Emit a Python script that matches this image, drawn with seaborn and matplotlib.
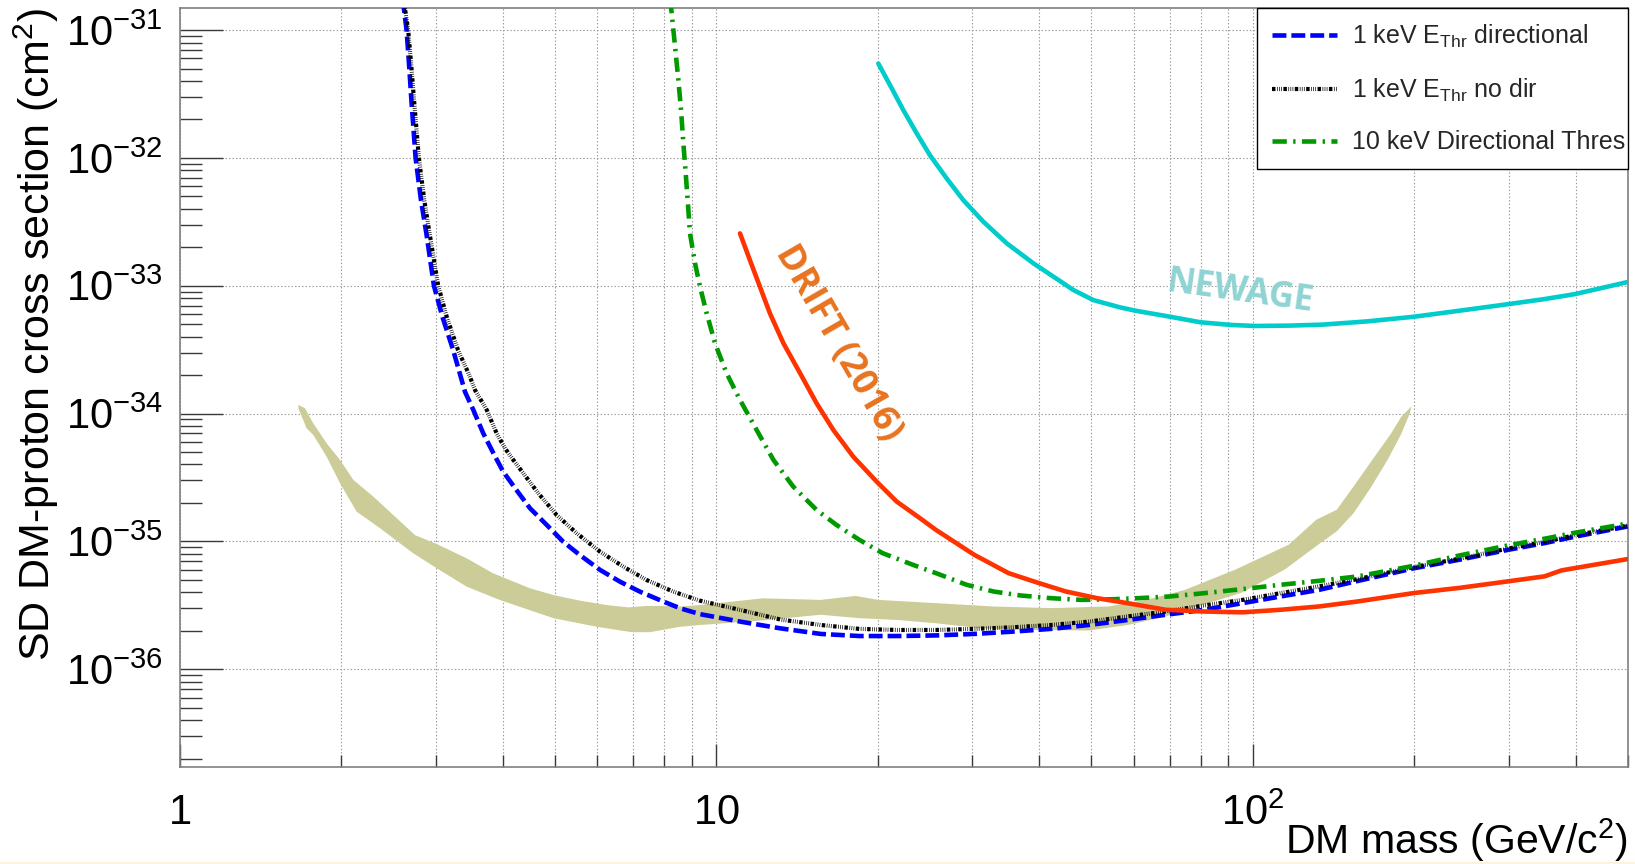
import matplotlib
matplotlib.use("Agg")
import matplotlib.pyplot as plt
from matplotlib.patches import Rectangle
from matplotlib.ticker import FixedLocator, FixedFormatter, LogLocator, NullFormatter
import numpy as np
import pandas as pd
import seaborn as sns

# ---------------- data: DM mass (GeV/c^2) vs SD cross-section limit (cm^2) ----------------
mass_1kev_dir = [2.582, 2.618, 2.649, 2.679, 2.704, 2.754, 2.818, 2.884, 2.979, 3.090, 3.236,
                 3.404, 3.527, 3.681, 3.846, 4.009, 4.246, 4.498, 4.831, 5.188, 5.572, 6.081,
                 6.622, 7.211, 7.852, 8.570, 9.333, 11.22, 13.18, 15.67, 18.49, 21.78, 25.70,
                 30.27, 35.65, 42.07, 49.55, 58.48, 68.87, 81.28, 95.72, 112.7, 133.0, 156.7,
                 200.0, 242.7, 299.9, 349.9, 399.0, 500.0]
xsec_1kev_dir = [3.16e-31, 1.48e-31, 1.00e-31, 5.16e-32, 2.83e-32, 9.91e-33, 4.67e-33, 2.56e-33,
                 1.00e-33, 5.70e-34, 3.13e-34, 1.48e-34, 1.07e-34, 7.01e-35, 4.89e-35, 3.52e-35,
                 2.52e-35, 1.82e-35, 1.35e-35, 9.95e-36, 7.83e-36, 5.98e-36, 4.84e-36, 4.05e-36,
                 3.48e-36, 3.00e-36, 2.70e-36, 2.34e-36, 2.09e-36, 1.89e-36, 1.82e-36, 1.82e-36,
                 1.84e-36, 1.89e-36, 1.97e-36, 2.07e-36, 2.22e-36, 2.43e-36, 2.67e-36, 2.92e-36,
                 3.29e-36, 3.71e-36, 4.18e-36, 4.90e-36, 6.17e-36, 7.19e-36, 8.61e-36, 9.70e-36,
                 1.09e-35, 1.31e-35]

mass_1kev_nodir = [2.594, 2.630, 2.667, 2.704, 2.735, 2.793, 2.858, 2.924, 3.034, 3.148, 3.304,
                   3.467, 3.553, 3.736, 3.899, 4.042, 4.188, 4.373, 4.662, 5.044, 5.496, 6.076,
                   6.714, 7.424, 8.323, 9.333, 11.22, 13.18, 15.67, 18.49, 21.78, 25.70, 30.27,
                   35.65, 42.07, 49.55, 58.48, 68.87, 81.28, 95.72, 112.7, 133.0, 156.7, 200.0,
                   242.7, 299.9, 349.9, 399.0, 500.0]
xsec_1kev_nodir = [3.16e-31, 1.48e-31, 1.00e-31, 5.16e-32, 2.83e-32, 9.91e-33, 4.67e-33, 2.56e-33,
                   1.00e-33, 5.70e-34, 3.13e-34, 2.00e-34, 1.53e-34, 1.07e-34, 7.01e-35, 5.35e-35,
                   4.34e-35, 3.41e-35, 2.38e-35, 1.61e-35, 1.16e-35, 8.32e-36, 6.35e-36, 4.99e-36,
                   4.05e-36, 3.44e-36, 2.88e-36, 2.45e-36, 2.22e-36, 2.07e-36, 2.03e-36, 2.03e-36,
                   2.07e-36, 2.13e-36, 2.22e-36, 2.36e-36, 2.59e-36, 2.83e-36, 3.16e-36, 3.49e-36,
                   3.94e-36, 4.45e-36, 5.07e-36, 6.31e-36, 7.33e-36, 8.81e-36, 9.93e-36, 1.12e-35,
                   1.33e-35]

mass_10kev_dir = [8.185, 8.241, 8.325, 8.421, 8.505, 8.603, 8.689, 8.777, 8.851, 8.940, 9.135,
                  9.333, 9.605, 9.954, 10.46, 11.08, 11.90, 12.79, 13.93, 15.40, 16.75, 18.49,
                  20.42, 23.28, 25.70, 29.31, 32.89, 36.90, 42.07, 47.97, 54.70, 61.38, 69.98,
                  81.28, 95.72, 112.7, 133.0, 156.7, 200.0, 242.7, 299.9, 349.9, 399.0, 500.0]
xsec_10kev_dir = [3.16e-31, 1.52e-31, 1.00e-31, 6.18e-32, 4.06e-32, 2.37e-32, 1.30e-32, 7.57e-33,
                  4.68e-33, 2.57e-33, 1.50e-33, 9.82e-34, 6.08e-34, 3.55e-34, 2.07e-34, 1.28e-34,
                  7.45e-35, 4.34e-35, 2.68e-35, 1.76e-35, 1.35e-35, 1.03e-35, 8.11e-36, 6.56e-36,
                  5.65e-36, 4.58e-36, 4.06e-36, 3.78e-36, 3.60e-36, 3.49e-36, 3.53e-36, 3.60e-36,
                  3.71e-36, 3.94e-36, 4.24e-36, 4.58e-36, 4.92e-36, 5.32e-36, 6.46e-36, 7.76e-36,
                  9.33e-36, 1.05e-35, 1.17e-35, 1.38e-35]

mass_drift = [11.08, 11.56, 12.07, 12.60, 13.35, 14.34, 15.40, 16.54, 18.02, 19.93, 21.71, 23.99,
              25.70, 30.27, 35.08, 39.99, 44.87, 51.29, 58.48, 68.87, 81.28, 95.72, 112.7, 133.0,
              156.7, 200.0, 242.7, 299.9, 349.9, 376.7, 399.0, 500.0]
xsec_drift = [2.57e-33, 1.59e-33, 9.82e-34, 6.08e-34, 3.55e-34, 2.07e-34, 1.20e-34, 7.45e-35,
              4.60e-35, 2.93e-35, 2.05e-35, 1.52e-35, 1.23e-35, 7.87e-36, 5.65e-36, 4.72e-36,
              4.06e-36, 3.60e-36, 3.29e-36, 2.92e-36, 2.83e-36, 2.79e-36, 2.92e-36, 3.10e-36,
              3.39e-36, 3.95e-36, 4.33e-36, 4.88e-36, 5.33e-36, 5.94e-36, 6.19e-36, 7.28e-36]

mass_newage = [20.06, 21.09, 22.33, 23.65, 25.04, 26.90, 28.89, 31.49, 34.81, 39.02, 42.52, 46.33,
               50.48, 56.60, 60.53, 70.15, 79.98, 91.20, 100.9, 117.0, 135.2, 163.7, 200.0, 242.7,
               299.9, 349.9, 399.0, 500.0]
xsec_newage = [5.48e-32, 3.72e-32, 2.37e-32, 1.56e-32, 1.05e-32, 6.92e-33, 4.68e-33, 3.17e-33,
               2.15e-33, 1.50e-33, 1.18e-33, 9.27e-34, 7.73e-34, 6.78e-34, 6.38e-34, 5.73e-34,
               5.18e-34, 4.94e-34, 4.85e-34, 4.88e-34, 4.97e-34, 5.27e-34, 5.73e-34, 6.38e-34,
               7.19e-34, 7.87e-34, 8.61e-34, 1.07e-33]

band_upper_mass = [1.665, 1.713, 1.775, 1.880, 1.991, 2.108, 2.297, 2.502, 2.747, 3.015, 3.428,
                   3.845, 4.499, 4.974, 5.577, 6.252, 6.863, 7.424, 7.974, 8.563, 9.333, 12.22,
                   15.67, 18.20, 20.04, 25.70, 32.89, 42.07, 53.83, 63.39, 74.82, 92.68, 116.7,
                   131.5, 143.5, 154.2, 168.7, 181.1, 189.2, 197.7]
band_upper_xsec = [1.17e-34, 1.10e-34, 8.39e-35, 5.85e-35, 4.34e-35, 3.03e-35, 2.24e-35, 1.61e-35,
                   1.12e-35, 9.55e-36, 7.38e-36, 5.62e-36, 4.30e-36, 3.81e-36, 3.44e-36, 3.18e-36,
                   3.05e-36, 3.13e-36, 3.13e-36, 3.09e-36, 3.18e-36, 3.59e-36, 3.49e-36, 3.75e-36,
                   3.49e-36, 3.29e-36, 3.10e-36, 3.01e-36, 3.10e-36, 3.49e-36, 4.18e-36, 6.00e-36,
                   9.42e-36, 1.48e-35, 1.77e-35, 2.69e-35, 4.59e-35, 6.98e-35, 9.42e-35, 1.14e-34]
band_lower_mass = [1.665, 1.725, 1.775, 1.880, 1.991, 2.138, 2.363, 2.727, 3.015, 3.428, 3.955,
                   4.974, 5.990, 6.963, 7.531, 8.089, 8.563, 9.333, 12.02, 15.67, 18.49, 21.78,
                   25.70, 31.26, 38.73, 49.55, 58.48, 68.87, 95.5, 114.8, 133.0, 143.5, 154.2,
                   166.0, 178.6, 189.2, 196.3]
band_lower_xsec = [1.10e-34, 7.67e-35, 6.81e-35, 4.60e-35, 2.85e-35, 1.71e-35, 1.27e-35, 8.07e-36,
                   6.17e-36, 4.43e-36, 3.48e-36, 2.51e-36, 2.15e-36, 1.95e-36, 1.95e-36, 2.06e-36,
                   2.15e-36, 2.22e-36, 2.40e-36, 2.67e-36, 2.51e-36, 2.43e-36, 2.29e-36, 2.09e-36,
                   2.03e-36, 2.01e-36, 2.22e-36, 2.59e-36, 3.98e-36, 6.03e-36, 9.55e-36, 1.20e-35,
                   1.66e-35, 2.63e-35, 4.37e-35, 6.92e-35, 1.00e-34]

legend_labels = [r"1 keV E$_{\mathrm{Thr}}$ directional",
                 r"1 keV E$_{\mathrm{Thr}}$ no dir",
                 "10 keV Directional Thres"]

x_tick_values = [1, 10, 100]
x_tick_labels = [r"$1$", r"$10$", r"$10^{2}$"]
y_tick_values = [1e-36, 1e-35, 1e-34, 1e-33, 1e-32, 1e-31]
y_tick_labels = [r"$10^{-36}$", r"$10^{-35}$", r"$10^{-34}$",
                 r"$10^{-33}$", r"$10^{-32}$", r"$10^{-31}$"]

# ---------------- styling ----------------
sns.set_theme(style="white")
plt.rcParams["font.family"] = ["Liberation Sans", "DejaVu Sans"]
plt.rcParams["mathtext.fontset"] = "custom"
plt.rcParams["mathtext.rm"] = "Liberation Sans"
plt.rcParams["mathtext.it"] = "Liberation Sans:italic"
plt.rcParams["mathtext.bf"] = "Liberation Sans:bold"
plt.rcParams["mathtext.default"] = "regular"
plt.rcParams["lines.scale_dashes"] = False

BAND = "#cccc99"
BLUE = "#0000ff"
BLACK = "#000000"
GREEN = "#009900"
RED = "#ff3300"
CYAN = "#00cccc"
DRIFT_TEXT = "#e8731f"
NEWAGE_TEXT = "#8fd3d3"
GRID = "#9a9a9a"

fig = plt.figure(figsize=(16.35, 8.64), dpi=100, facecolor="white")
ax = fig.add_axes([0.10985, 0.11227, 0.88563, 0.87847])
ax.set_xscale("log")
ax.set_yscale("log")
ax.set_xlim(1, 500)
ax.set_ylim(1.72e-37, 1.49e-31)

# expected-sensitivity band
ax.fill(np.concatenate([band_upper_mass, band_lower_mass[::-1]]),
        np.concatenate([band_upper_xsec, band_lower_xsec[::-1]]),
        color=BAND, lw=0, zorder=1)


def draw(mass, xsec, color, lw, dashes=None, z=3):
    df = pd.DataFrame({"mass": mass, "xsec": xsec})
    sns.lineplot(data=df, x="mass", y="xsec", ax=ax, color=color, linewidth=lw,
                 estimator=None, sort=False, legend=False, zorder=z)
    line = ax.lines[-1]
    if dashes is not None:
        line.set_dashes(dashes)
    line.set_dash_capstyle("butt")
    return line


LW = 3.3
l_dir = draw(mass_1kev_dir, xsec_1kev_dir, BLUE, LW, dashes=[10.0, 3.6], z=3)
l_nodir = draw(mass_1kev_nodir, xsec_1kev_nodir, BLACK, 3.0,
               dashes=[2.5, 1.1, 0.5, 1.0, 0.5, 1.0, 0.5, 1.1], z=4)
l_10kev = draw(mass_10kev_dir, xsec_10kev_dir, GREEN, LW, dashes=[10.3, 4.6, 1.7, 4.6], z=5)
draw(mass_drift, xsec_drift, RED, LW, z=6)
draw(mass_newage, xsec_newage, CYAN, LW, z=6)

# experiment labels
ax.text(16.9, 3.55e-34, "DRIFT (2016)", rotation=-60, rotation_mode="anchor",
        ha="center", va="center", fontsize=26, fontweight="bold",
        family=["Open Sans", "DejaVu Sans"], color=DRIFT_TEXT, zorder=7)
ax.text(94.8, 8.9e-34, "NEWAGE", rotation=-8, rotation_mode="anchor",
        ha="center", va="center", fontsize=25, fontweight="bold",
        family=["Open Sans", "DejaVu Sans"], color=NEWAGE_TEXT, zorder=7)

# axes, ticks, grid
ax.xaxis.set_major_locator(FixedLocator(x_tick_values))
ax.xaxis.set_major_formatter(FixedFormatter(x_tick_labels))
ax.xaxis.set_minor_locator(LogLocator(base=10, subs=np.arange(2, 10), numticks=60))
ax.xaxis.set_minor_formatter(NullFormatter())
ax.yaxis.set_major_locator(FixedLocator(y_tick_values))
ax.yaxis.set_major_formatter(FixedFormatter(y_tick_labels))
ax.yaxis.set_minor_locator(LogLocator(base=10, subs=np.arange(2, 10), numticks=60))
ax.yaxis.set_minor_formatter(NullFormatter())

tick_col = "#3a3a3a"
ax.tick_params(axis="y", which="major", direction="in", length=31, width=1.0, color=tick_col,
               pad=12, labelsize=30, labelcolor="black", left=True, right=False)
ax.tick_params(axis="y", which="minor", direction="in", length=16, width=1.0, color=tick_col,
               left=True, right=False)
ax.tick_params(axis="x", which="major", direction="in", length=16.5, width=1.0, color=tick_col,
               pad=19, labelsize=30, labelcolor="black", bottom=True, top=False)
ax.tick_params(axis="x", which="minor", direction="in", length=8.6, width=1.0, color=tick_col,
               bottom=True, top=False)

ax.grid(True, which="major", axis="y", color=GRID, linestyle=(0, (1, 1.5)), linewidth=0.8)
ax.grid(True, which="both", axis="x", color=GRID, linestyle=(0, (1, 1.5)), linewidth=0.8)
ax.set_axisbelow(True)

for sp in ax.spines.values():
    sp.set_color("#808080")
    sp.set_linewidth(1.2)

ax.set_xlabel(r"DM mass (GeV/c$^{2}$)", fontsize=29.5, loc="right", color="black")
ax.xaxis.set_label_coords(1.0, -0.0645)
ax.set_ylabel(r"SD DM-proton cross section (cm$^{2}$)", fontsize=31, loc="top", color="black")
ax.yaxis.set_label_coords(-0.0819, 1.0)

leg = ax.legend(handles=[l_dir, l_nodir, l_10kev], labels=legend_labels,
                loc="upper left", bbox_to_anchor=(0.7686, 0.9907, 0.2271, 0.0),
                bbox_transform=fig.transFigure, mode="expand", borderaxespad=0,
                fontsize=18, frameon=True, fancybox=False, framealpha=1,
                edgecolor="black", facecolor="white", handlelength=2.63,
                handletextpad=0.6, labelspacing=1.06, borderpad=0.6)
leg.get_frame().set_linewidth(1.0)
leg.set_zorder(10)

fig.add_artist(Rectangle((0, 0), 1, 2.5 / 864, transform=fig.transFigure,
                         facecolor="#fdf3dc", edgecolor="none", zorder=-5))

fig.savefig("out.png", dpi=100, facecolor="white")
